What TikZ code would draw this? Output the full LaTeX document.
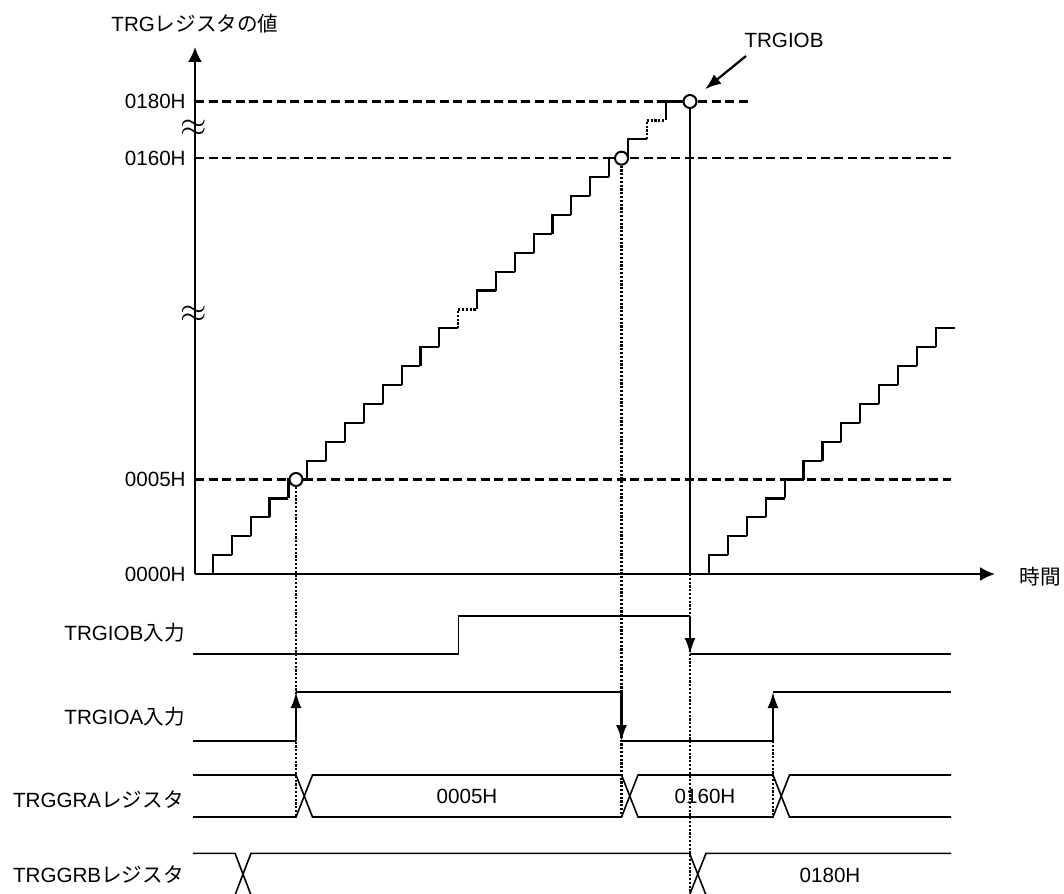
\documentclass[tikz,border=0pt]{standalone}
\usepackage{fontspec}
\setmainfont{Liberation Sans}
\newfontfamily\jp{Noto Sans CJK JP}
\usetikzlibrary{arrows.meta,positioning}

\begin{document}
\begin{tikzpicture}[
    x=0.5pt, y=-0.5pt,
    every node/.style={inner sep=0pt, font=\fontsize{10.3}{12}\selectfont},
    myaxis/.style={line width=1.1pt, -{Latex[length=7.5pt,width=7pt]}},
    mydash/.style={line width=1.3pt, dash pattern=on 4.5pt off 2.3pt},
    mydot/.style={line width=1.2pt, dash pattern=on 1.1pt off 0.8pt},
    mystair/.style={line width=1.1pt},
    mysig/.style={line width=0.8pt},
    myedge/.style={line width=1.1pt, -{Latex[length=8pt,width=5.5pt]}},
    mypointer/.style={line width=1.1pt, -{Latex[length=8pt,width=6pt]}},
    mymark/.style={circle, draw, fill=white, line width=1pt, minimum size=6.5pt},
    mybreak/.style={scale=1.7}
]
\useasboundingbox (0,0) rectangle (1064,893);
\clip (0,0) rectangle (1064,893);

% axes
\coordinate (O) at (195,574);
\coordinate (ytip) at (195,47);
\coordinate (xtip) at (995,574);
\draw[myaxis] (O) -- (ytip);
\draw[myaxis] (O) -- (xtip);
\node (ytitle) at (195,24) {TRG\jp レジスタの値};
\node (xtitle) at (1040,577) {\jp 時間};

% levels
\node[anchor=east] (L180) at (186,101.5) {0180H};
\node[anchor=east] (L160) at (186,158.2) {0160H};
\node[anchor=east] (L5) at (186,479.5) {0005H};
\node[anchor=east] (L0) at (186,574) {0000H};
\draw[mydash] (O |- L180) -- ++(555,0);
\draw[mydash] (O |- L160) -- ++(756,0);
\draw[mydash] (O |- L5) -- ++(756,0);
\node[mybreak] (W1) at (194,128) {$\approx$};
\node[mybreak] (W2) at (194,314.5) {$\approx$};

% counter steps
\foreach \k in {0,...,12,14,15,...,22}
  \draw[mystair] ({213+18.86*\k},{574-18.9*\k}) |- ({213+18.86*(\k+1)},{574-18.9*(\k+1)});
\foreach \k in {13,23}
  \draw[mydot] ({213+18.86*\k},{574-18.9*\k}) |- ({213+18.86*(\k+1)},{574-18.9*(\k+1)});
\foreach \k in {0,...,12}
  \draw[mystair] ({709+18.9*\k},{574-18.9*\k}) |- ({709+18.9*(\k+1)},{574-18.9*(\k+1)});

\node[mymark] (C5) at (296,479.5) {};
\node[mymark] (C160) at (621.5,158.2) {};
\node[mymark] (C180) at (690,101.5) {};
\draw[mystair] ({213+18.86*24},{574-18.9*24}) |- (C180);

\node (P) at (784,40) {TRGIOB};
\coordinate (Ptail) at (746,56);
\draw[mypointer, shorten >=6pt] (Ptail) -- (C180);

% TRGIOB input
\node[anchor=east] (SB) at (185,633) {TRGIOB\jp 入力};
\draw[mysig] (193,654) -- (458.5,654) |- (690,616);
\draw[myedge] (690,616) -- (690,654);
\draw[mysig] (690,654) -- (951,654);

% TRGIOA input
\node[anchor=east] (SA) at (185,716.5) {TRGIOA\jp 入力};
\draw[mysig] (193,741) -- (296,741);
\draw[myedge] (296,741) -- (296,692);
\draw[mysig] (296,692) -- (621.5,692);
\draw[myedge] (621.5,692) -- (621.5,741);
\draw[mysig] (621.5,741) -- (773,741);
\draw[myedge] (773,741) -- (773,692);
\draw[mysig] (773,692) -- (951,692);

% TRGGRA
\node[anchor=east] (RA) at (184,800) {TRGGRA\jp レジスタ};
\draw[mysig] (193,775) -- (296,775) -- (312.5,817) -- (621.5,817) -- (638,775) -- (773,775) -- (789.5,817) -- (951,817);
\draw[mysig] (193,817) -- (296,817) -- (312.5,775) -- (621.5,775) -- (638,817) -- (773,817) -- (789.5,775) -- (951,775);
\node (V5) at (467,796) {0005H};
\node (V160) at (705,796) {0160H};

% TRGGRB
\node[anchor=east] (RB) at (184,875) {TRGGRB\jp レジスタ};
\draw[mysig] (193,853.3) -- (235,853.3) -- (251,895) -- (689.5,895) -- (706,853.3) -- (951,853.3);
\draw[mysig] (193,895) -- (235,895) -- (251,853.3) -- (689.5,853.3) -- (706,895) -- (951,895);
\node (V180) at (830,875) {0180H};

% capture lines
\coordinate (A5) at (296,817);
\coordinate (A160) at (621.5,817);
\coordinate (A173) at (773,741);
\coordinate (B173) at (773,817);
\draw[mydot] (C5) -- (A5);
\draw[mydot] (C160) -- (A160);
\draw[mydot] (A173) -- (B173);
\draw[mysig] (C180) -- (C180 |- O);
\draw[mydot] (C180 |- O) -- (690,893);
\end{tikzpicture}
\end{document}
